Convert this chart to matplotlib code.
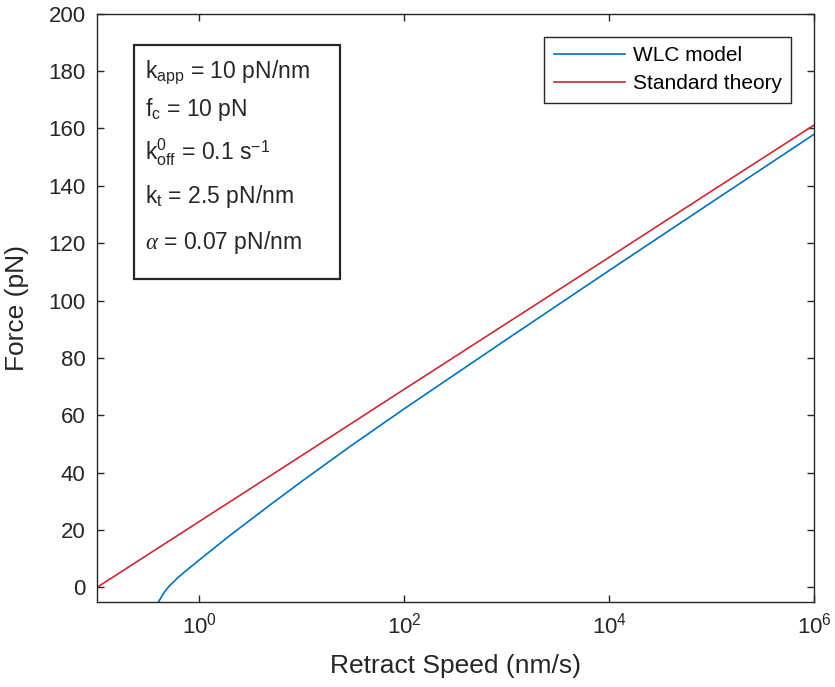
import matplotlib
matplotlib.use("Agg")
import matplotlib.pyplot as plt
from matplotlib.patches import Rectangle
from matplotlib.ticker import FixedLocator, NullLocator

plt.rcParams['font.family'] = ['Liberation Sans', 'DejaVu Sans']
plt.rcParams['mathtext.fontset'] = 'custom'
plt.rcParams['mathtext.rm'] = 'Liberation Sans'
plt.rcParams['mathtext.it'] = 'Liberation Serif:italic'

# values
speed_std = [0.1, 1, 10, 100, 1e3, 1e4, 1e5, 1e6]
force_std = [0, 23, 46, 69.1, 92.1, 115.1, 138.2, 161.2]

speed_wlc = [0.4, 0.45, 0.5, 0.6, 0.7, 0.8, 1, 2, 5, 10, 30, 100, 1e3, 1e4, 1e5, 1e6]
force_wlc = [-5, -1.9, 0.2, 3.0, 5.1, 6.8, 9.6, 18.2, 29.0, 37.0, 49.3, 62.3, 86.5, 110.5, 134.3, 158]

xticks = [1, 1e2, 1e4, 1e6]
yticks = list(range(0, 201, 20))

params = [
    r'k$_{\mathrm{app}}$ = 10 pN/nm',
    r'f$_{\mathrm{c}}$ = 10 pN',
    r'k$^{\mathrm{0}}_{\mathrm{off}}$ = 0.1 s$^{\mathrm{-1}}$',
    r'k$_{\mathrm{t}}$ = 2.5 pN/nm',
    r'$\alpha$ = 0.07 pN/nm',
]

dark = '#262626'
fig = plt.figure(figsize=(8.35, 6.87), dpi=100)
ax = fig.add_axes([0.116, 0.124, 0.859, 0.856])

ax.plot(speed_wlc, force_wlc, color='#0072BD', lw=1.2, label='WLC model')
ax.plot(speed_std, force_std, color='#CC2936', lw=1.2, label='Standard theory')

ax.set_xscale('log')
ax.set_xlim(0.1, 1e6)
ax.set_ylim(-5, 200)
ax.xaxis.set_major_locator(FixedLocator(xticks))
ax.xaxis.set_minor_locator(NullLocator())
ax.set_yticks(yticks)

ax.tick_params(direction='in', top=True, right=True, length=5, width=1,
               labelsize=16, colors=dark, pad=8)
for s in ax.spines.values():
    s.set_color(dark)
    s.set_linewidth(1.0)

ax.set_xlabel('Retract Speed (nm/s)', fontsize=19, color=dark)
ax.set_ylabel('Force (pN)', fontsize=19, color=dark)
ax.xaxis.set_label_coords(0.5, -0.088)
ax.yaxis.set_label_coords(-0.094, 0.5)

leg = ax.legend(loc='upper right', fontsize=15, fancybox=False, framealpha=1,
                edgecolor=dark, handlelength=3.4, handletextpad=0.4,
                labelspacing=0.45, borderaxespad=1.1, borderpad=0.45)
leg.get_frame().set_linewidth(1.0)

ax.add_patch(Rectangle((0.0516, 0.549), 0.2874, 0.398, transform=ax.transAxes,
                       fill=False, ec=dark, lw=1.6))
ys = [0.901, 0.837, 0.765, 0.690, 0.611]
for y, t in zip(ys, params):
    ax.text(0.067, y, t, transform=ax.transAxes, fontsize=16.5, color=dark,
            va='center', ha='left')

fig.savefig('out.png', dpi=100)
